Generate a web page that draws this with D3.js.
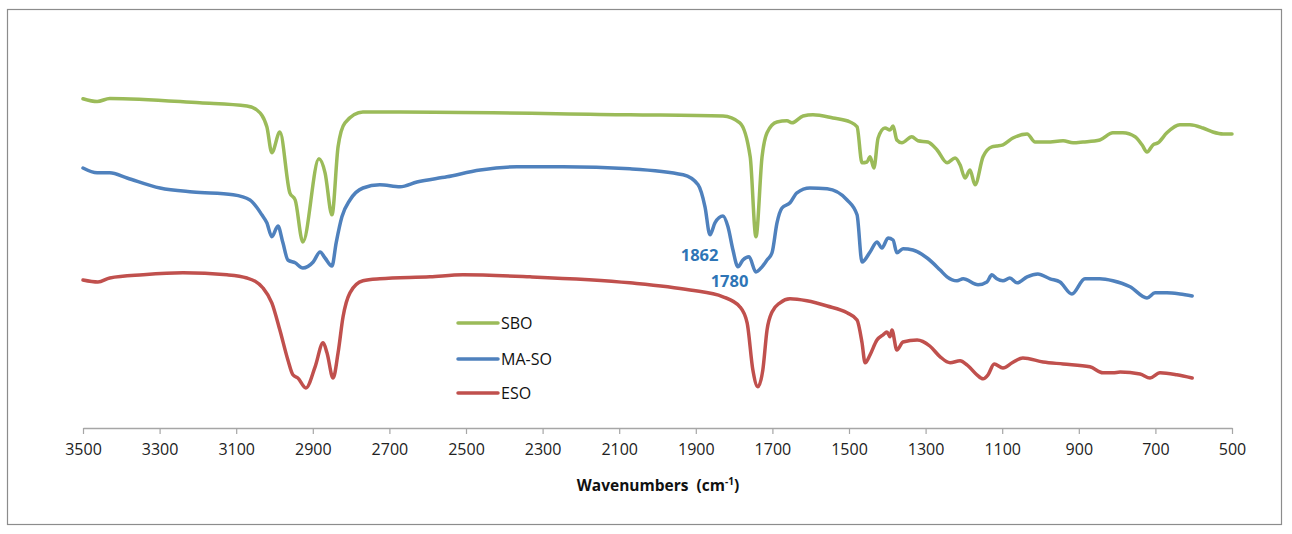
<!DOCTYPE html>
<html>
<head>
<meta charset="utf-8">
<script src="https://cdn.jsdelivr.net/npm/d3@7"></script>
<style>
  body { margin: 0; background: #fff; }
  svg { display: block; font-family: "Open Sans", "Liberation Sans", sans-serif; }
</style>
</head>
<body>
<div id="chart"></div>
<script>
// wavenumber (cm-1) / relative transmittance (a.u.)
const sboWave = [3500,3463,3430,3195,3072,3046,3020,3007,2986,2960,2946,2926,2884,2868,2850,2834,2816,2769,2672,2072,
  1829,1785,1758,1743,1727,1714,1688,1662,1649,1620,1594,1542,1497,1479,1466,1453,1445,1435,1424,1406,1393,1385,1375,
  1362,1336,1320,1294,1270,1244,1223,1210,1197,1184,1171,1150,1127,1114,1098,1072,1035,1014,983,941,915,889,845,811,
  785,753,735,722,706,693,670,636,610,576,550,523,500];
const sboT = [82.3,81.6,82.4,81.3,80.5,79.5,75.3,68.8,74.0,58.8,57.0,46.5,67.3,63.8,53.3,70.3,76.3,79.0,79.0,78.3,
  78.0,76.3,67.8,47.8,67.8,73.8,76.5,76.8,76.3,78.0,78.3,77.5,76.5,75.3,66.3,66.5,67.8,65.0,72.5,75.0,74.5,75.5,72.0,
  71.3,72.8,71.8,71.5,69.5,66.3,67.5,65.8,62.5,64.5,60.8,67.8,70.3,70.5,70.8,72.5,73.5,71.5,71.5,71.8,71.3,71.5,72.0,73.8,
  73.8,72.8,70.8,69.0,70.8,71.3,73.8,75.8,75.8,75.0,74.0,73.5,73.5];

const masoWave = [3500,3463,3430,3385,3299,3213,3108,3064,3033,3020,3007,2991,2978,2965,2946,2926,2899,2881,2868,2850,
  2839,2824,2803,2769,2725,2672,2628,2550,2463,2367,2247,2072,1933,1894,1876,1863,1850,1829,1816,1803,1790,1777,1761,
  1743,1727,1714,1701,1688,1675,1654,1636,1602,1557,1505,1479,1466,1445,1427,1414,1398,1385,1375,1359,1333,1296,1262,
  1244,1218,1202,1163,1140,1127,1114,1098,1080,1061,1035,1007,975,949,918,884,845,811,766,722,701,670,636,604];
const masoT = [65.0,63.8,63.8,62.5,60.0,59.0,58.3,57.0,53.3,51.3,47.8,50.5,46.3,42.0,41.3,40.0,41.5,44.0,42.5,40.5,
  46.3,52.8,57.0,60.0,60.8,60.3,61.5,62.8,64.5,65.3,65.3,64.8,63.3,60.8,55.3,48.3,51.3,53.0,50.3,44.5,40.3,42.0,42.8,
  39.0,40.3,42.0,43.8,51.3,55.0,56.3,58.8,60.0,59.8,57.0,53.3,41.5,44.0,46.5,45.0,47.5,47.0,43.8,44.8,44.5,42.5,39.5,
  37.8,36.8,37.3,35.8,36.5,38.3,37.3,36.8,37.5,36.3,37.8,38.5,37.3,36.5,33.5,37.3,37.3,36.8,35.3,32.5,33.8,33.8,33.5,33.0];

const esoWave = [3500,3461,3430,3343,3239,3124,3072,3030,3007,2986,2965,2952,2939,2918,2894,2873,2863,2847,2834,2821,
  2803,2769,2725,2594,2508,2333,2072,1915,1829,1785,1766,1751,1738,1725,1714,1701,1680,1654,1610,1557,1505,1479,1466,
  1458,1445,1427,1411,1401,1393,1388,1375,1359,1322,1289,1262,1236,1210,1192,1166,1150,1137,1121,1098,1074,1046,993,
  941,871,837,811,792,740,714,688,644,604];
const esoT = [37.0,36.5,37.5,38.3,38.8,38.3,37.5,35.0,31.3,24.5,17.0,13.3,12.5,10.0,15.3,21.3,18.8,12.5,18.8,27.8,
  33.8,36.8,37.3,37.8,38.3,37.8,36.3,34.5,32.8,30.3,26.3,14.5,10.3,14.5,24.5,29.0,31.3,32.3,31.8,30.5,28.8,27.0,21.3,
  16.3,18.3,22.0,23.3,24.0,22.8,24.5,19.5,21.5,22.0,20.5,17.8,16.3,16.8,15.8,13.3,12.3,13.3,16.0,15.0,16.3,17.5,16.5,
  16.0,15.3,13.8,13.8,14.0,13.5,12.5,13.8,13.3,12.5];

const seriesNames = ["SBO", "MA-SO", "ESO"];
const seriesColors = ["#9BBB59", "#4F81BD", "#C0504D"];
const xTicks = [3500,3300,3100,2900,2700,2500,2300,2100,1900,1700,1500,1300,1100,900,700,500];
const peakLabels = [{ text: "1862", w: 1890, t: 43.5 }, { text: "1780", w: 1812, t: 37.0 }];

const W = 1292, H = 534;
const x = d3.scaleLinear().domain([3500, 500]).range([83, 1232]);
const y = d3.scaleLinear().domain([0, 100]).range([428, 28]);

const svg = d3.select("#chart").append("svg").attr("width", W).attr("height", H);

svg.append("rect")
  .attr("x", 7.5).attr("y", 9.5).attr("width", 1274).attr("height", 515)
  .attr("fill", "#fff").attr("stroke", "#8c8c8c").attr("stroke-width", 1.2);

// x axis
const axis = svg.append("g").attr("transform", "translate(0,428)")
  .call(d3.axisBottom(x).tickValues(xTicks).tickFormat(d3.format("d"))
    .tickSize(6).tickSizeOuter(0).tickPadding(10));
axis.select(".domain").attr("stroke", "#a6a6a6").attr("stroke-width", 1.5);
axis.selectAll(".tick line").attr("stroke", "#a6a6a6").attr("stroke-width", 1.2);
axis.selectAll(".tick text").attr("font-size", 16).attr("fill", "#222")
  .attr("font-family", "Open Sans, sans-serif");

const title = svg.append("text")
  .attr("x", 658).attr("y", 491).attr("text-anchor", "middle")
  .attr("font-size", 15.5).attr("font-weight", "bold").attr("fill", "#111");
title.append("tspan").text("Wavenumbers\u00a0 (cm");
title.append("tspan").text("-1").attr("font-size", 10).attr("dy", -6);
title.append("tspan").text(")").attr("dy", 6);

// spectra
const line = d3.line()
  .x(d => x(d[0])).y(d => y(d[1]))
  .curve(d3.curveMonotoneX);

const allSeries = [[sboWave, sboT], [masoWave, masoT], [esoWave, esoT]];
allSeries.forEach((s, i) => {
  const pts = d3.zip(s[0], s[1]);
  svg.append("path")
    .datum(pts)
    .attr("d", line)
    .attr("fill", "none")
    .attr("stroke", seriesColors[i])
    .attr("stroke-width", 3.5)
    .attr("stroke-linejoin", "round")
    .attr("stroke-linecap", "round");
});

// peak labels
peakLabels.forEach(p => {
  svg.append("text")
    .attr("x", x(p.w)).attr("y", y(p.t))
    .attr("text-anchor", "middle").attr("dominant-baseline", "central")
    .attr("font-size", 16.5).attr("font-weight", "bold").attr("fill", "#2E75B6")
    .text(p.text);
});

// legend
const legendY = [323, 359, 393];
seriesNames.forEach((name, i) => {
  svg.append("line")
    .attr("x1", 458).attr("x2", 498).attr("y1", legendY[i]).attr("y2", legendY[i])
    .attr("stroke", seriesColors[i]).attr("stroke-width", 3.5).attr("stroke-linecap", "round");
  svg.append("text")
    .attr("x", 501).attr("y", legendY[i]).attr("dominant-baseline", "central")
    .attr("font-size", 16).attr("fill", "#111")
    .text(name);
});
</script>
</body>
</html>
